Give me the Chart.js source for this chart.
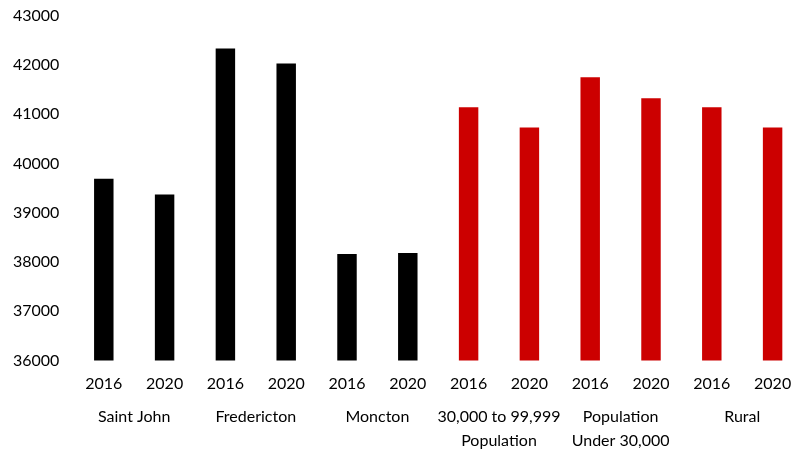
<!DOCTYPE html>
<html lang="en">
<head>
    <meta charset="UTF-8">
    <title>Median income by area, 2016 and 2020</title>
    <script src="https://cdn.jsdelivr.net/npm/chart.js"></script>
    <style>
        body { margin: 0; background: #fff; }
        #chartContainer { width: 805px; height: 450px; }
    </style>
</head>
<body>
    <div id="chartContainer">
        <canvas id="incomeChart" width="805" height="450"></canvas>
    </div>

    <script>
// years repeat for each area
const years = ['2016', '2020', '2016', '2020', '2016', '2020', '2016', '2020', '2016', '2020', '2016', '2020'];
const areas = [
    'Saint John',
    'Fredericton',
    'Moncton',
    ['30,000 to 99,999', 'Population'],
    ['Population', 'Under 30,000'],
    'Rural'
];
const values = [39690, 39370, 42330, 42030, 38160, 38180, 41140, 40730, 41750, 41320, 41140, 40730];
const yTicks = [36000, 37000, 38000, 39000, 40000, 41000, 42000, 43000];

// first three areas are cities (black), the rest are red
const cityBars = 6;
const barColors = values.map((v, i) => i < cityBars ? '#000000' : '#cc0000');

Chart.defaults.font.family = 'Lato, "Open Sans", sans-serif';
Chart.defaults.font.size = 16;
Chart.defaults.color = '#000';

const ctx = document.getElementById('incomeChart').getContext('2d');
new Chart(ctx, {
    type: 'bar',
    data: {
        labels: years,
        datasets: [{
            data: values,
            backgroundColor: barColors,
            barPercentage: 0.32,
            categoryPercentage: 1.0
        }]
    },
    options: {
        responsive: false,
        animation: false,
        layout: { padding: { top: 2, left: 7, right: 2, bottom: 0 } },
        plugins: {
            legend: { display: false },
            tooltip: { enabled: false }
        },
        scales: {
            x: {
                grid: { display: false },
                border: { display: false },
                ticks: { padding: 6, maxRotation: 0, autoSkip: false }
            },
            x2: {
                type: 'category',
                position: 'bottom',
                labels: areas,
                offset: true,
                grid: { display: false },
                border: { display: false },
                ticks: { padding: -2, maxRotation: 0, autoSkip: false, font: { lineHeight: 1.45 } }
            },
            y: {
                min: 36000,
                max: 43000,
                afterBuildTicks: axis => { axis.ticks = yTicks.map(v => ({ value: v })); },
                grid: { display: false },
                border: { display: false },
                ticks: { padding: 6, callback: v => String(v) }
            }
        }
    }
});
    </script>
</body>
</html>
